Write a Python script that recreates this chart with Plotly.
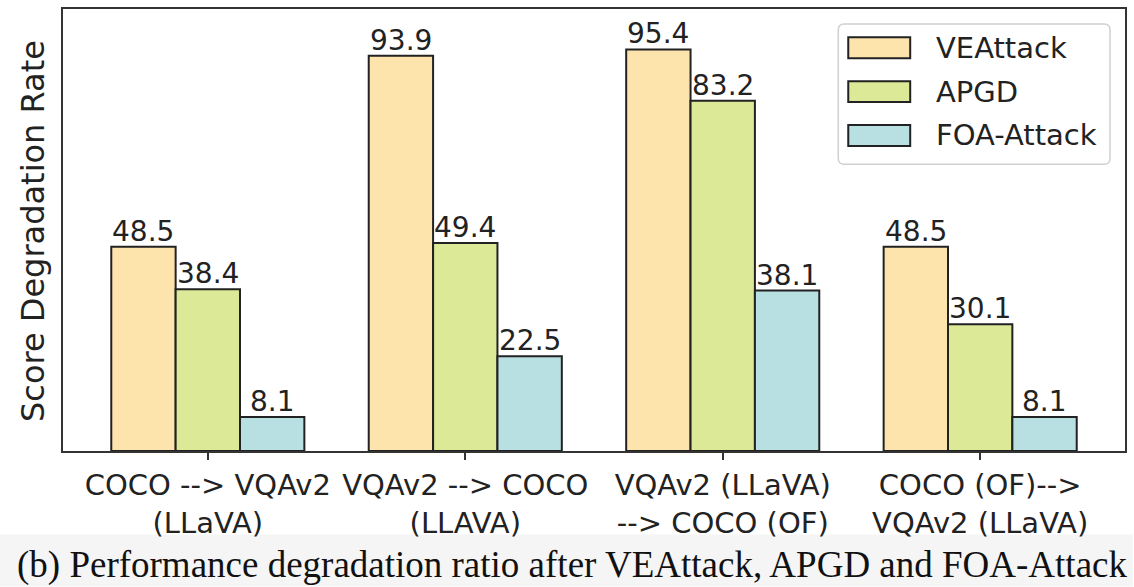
import plotly.graph_objects as go

# ---- data -------------------------------------------------------------
categories = [
    "COCO --> VQAv2<br>(LLaVA)",
    "VQAv2 --> COCO<br>(LLAVA)",
    "VQAv2 (LLaVA)<br>--> COCO (OF)",
    "COCO (OF)--><br>VQAv2 (LLaVA)",
]
series_names = ["VEAttack", "APGD", "FOA-Attack"]
veattack = [48.5, 93.9, 95.4, 48.5]
apgd = [38.4, 49.4, 83.2, 30.1]
foa_attack = [8.1, 22.5, 38.1, 8.1]
series_values = [veattack, apgd, foa_attack]
colors = ["#FDE3AC", "#DCE996", "#B8DFE1"]

y_title = "Score Degradation Rate"
caption = "(b) Performance degradation ratio after VEAttack, APGD and FOA-Attack"

# ---- layout geometry (pixels) ------------------------------------------
FIG_W, FIG_H = 1134, 587
L, R, T, B = 63, 1126, 7, 451
W, H = R - L, B - T
EDGE = "#222222"
FONT = "DejaVu Sans"
BAR_W = 0.25


def fx(px):
    return (px - L) / W


def fy(py):
    return (B - py) / H


x_pos = list(range(len(categories)))
n_series = len(series_names)

fig = go.Figure()
annotations = []
for k, (name, vals, col) in enumerate(zip(series_names, series_values, colors)):
    offset = (k - (n_series - 1) / 2) * BAR_W
    fig.add_trace(go.Bar(
        x=x_pos, y=vals, name=name,
        marker=dict(color=col, line=dict(color=EDGE, width=2)),
        showlegend=False,
    ))
    # value label sitting just above each bar
    for xi, v in zip(x_pos, vals):
        annotations.append(dict(
            x=xi + offset, y=v, xref="x", yref="y",
            text=f"{v:.1f}", showarrow=False,
            xanchor="center", yanchor="bottom", yshift=-3,
            font=dict(family=FONT, size=28, color="#222222"),
        ))

shapes = []

# grey band behind the caption
shapes.append(dict(type="rect", xref="paper", yref="paper",
                   x0=fx(0), x1=fx(FIG_W), y0=fy(587), y1=fy(535),
                   fillcolor="#f5f5f5", line=dict(width=0), layer="below"))

# legend frame with rounded corners
lx0, lx1, ly0, ly1, r = 839, 1111, 22, 163, 6
rx, ry = r / W, r / H
X0, X1, Y0, Y1 = fx(lx0), fx(lx1), fy(ly1), fy(ly0)
path = (f"M {X0+rx},{Y0} L {X1-rx},{Y0} Q {X1},{Y0} {X1},{Y0+ry} "
        f"L {X1},{Y1-ry} Q {X1},{Y1} {X1-rx},{Y1} "
        f"L {X0+rx},{Y1} Q {X0},{Y1} {X0},{Y1-ry} "
        f"L {X0},{Y0+ry} Q {X0},{Y0} {X0+rx},{Y0} Z")
shapes.append(dict(type="path", xref="paper", yref="paper", path=path,
                   fillcolor="rgba(255,255,255,0.9)",
                   line=dict(color="#d0d0d0", width=1.5)))

row_centers = [46, 90, 134]
for name, col, cy in zip(series_names, colors, row_centers):
    shapes.append(dict(type="rect", xref="paper", yref="paper",
                       x0=fx(849), x1=fx(911), y0=fy(cy + 10.5), y1=fy(cy - 10.5),
                       fillcolor=col, line=dict(color=EDGE, width=2)))
    annotations.append(dict(xref="paper", yref="paper", x=fx(935), y=fy(cy),
                            xanchor="left", yanchor="middle", showarrow=False,
                            text=name, font=dict(family=FONT, size=29, color="#222222")))

# y-axis title
annotations.append(dict(xref="paper", yref="paper", x=fx(33), y=fy(230),
                        xanchor="center", yanchor="middle", showarrow=False,
                        textangle=-90, text=y_title,
                        font=dict(family=FONT, size=32, color="#222222")))

# caption
annotations.append(dict(xref="paper", yref="paper", x=fx(572), y=fy(566),
                        xanchor="center", yanchor="middle", showarrow=False,
                        text=caption,
                        font=dict(family="Liberation Serif", size=37, color="#111111")))

fig.update_layout(
    width=FIG_W, height=FIG_H,
    margin=dict(l=L, r=FIG_W - R, t=T, b=FIG_H - B, pad=0),
    paper_bgcolor="white", plot_bgcolor="white",
    barmode="group", bargap=1 - n_series * BAR_W, bargroupgap=0,
    shapes=shapes, annotations=annotations,
    xaxis=dict(
        range=[-0.5625, len(categories) - 1 + 0.5625],
        tickvals=x_pos, ticktext=categories,
        tickfont=dict(family=FONT, size=29, color="#222222"),
        showline=True, mirror=True, linecolor="#333333", linewidth=2,
        ticks="outside", ticklen=7, tickwidth=1.5, tickcolor="#333333",
        showgrid=False, zeroline=False,
    ),
    yaxis=dict(
        range=[0, 105],
        showticklabels=False, ticks="",
        showline=True, mirror=True, linecolor="#333333", linewidth=2,
        showgrid=False, zeroline=False,
    ),
)

fig.write_html("out.html")
